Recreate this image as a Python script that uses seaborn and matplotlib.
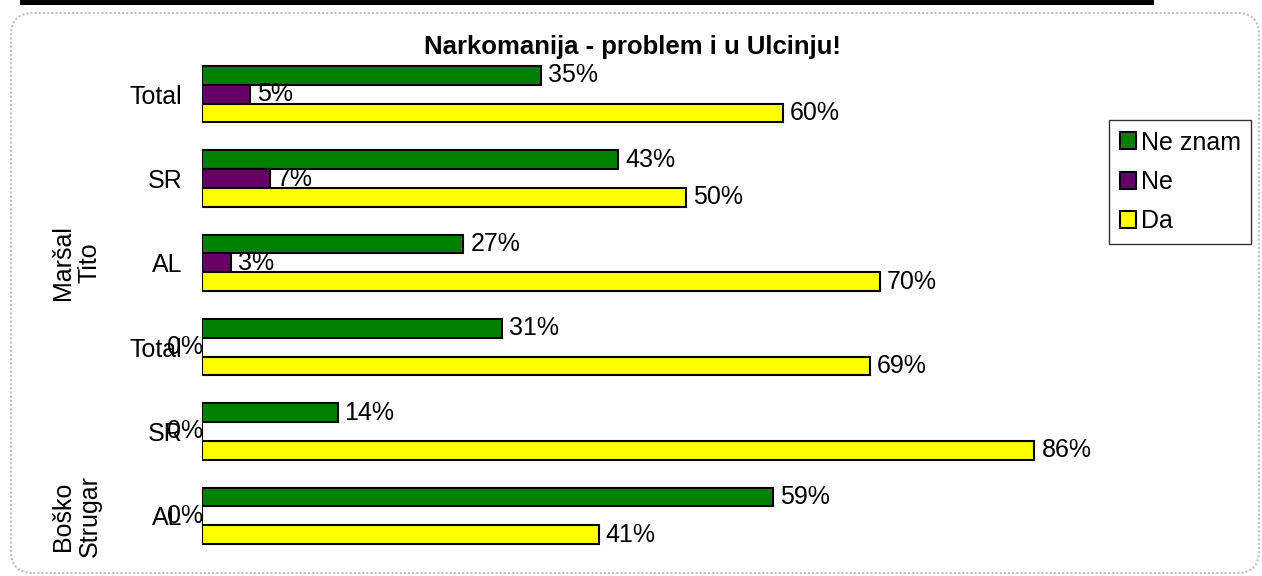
import matplotlib
matplotlib.use("Agg")
import matplotlib.pyplot as plt
import matplotlib.transforms as mtransforms
from matplotlib.patches import Patch, FancyBboxPatch, Rectangle
import seaborn as sns
import pandas as pd

# ---- data ----
title = "Narkomanija - problem i u Ulcinju!"
groups = ["Maršal Tito", "Maršal Tito", "Maršal Tito",
          "Boško Strugar", "Boško Strugar", "Boško Strugar"]
subcats = ["Total", "SR", "AL", "Total", "SR", "AL"]
answers = ["Ne znam", "Ne", "Da"]
ne_znam = [35, 43, 27, 31, 14, 59]
ne = [5, 7, 3, 0, 0, 0]
da = [60, 50, 70, 69, 86, 41]
colors = ["#008000", "#660066", "#FFFF00"]

# ---- long table ----
cat_ids = [f"{g} / {s}" for g, s in zip(groups, subcats)]
rows = []
for ans, vals in zip(answers, [ne_znam, ne, da]):
    for cid, v in zip(cat_ids, vals):
        rows.append({"cat": cid, "answer": ans, "value": v})
df = pd.DataFrame(rows)

sns.set_style("white")
plt.rcParams["font.family"] = ["Liberation Sans", "DejaVu Sans"]
plt.rcParams["text.color"] = "black"
plt.rcParams["ytick.color"] = "black"
plt.rcParams["ytick.labelcolor"] = "black"

FS = 18
W, H, DPI = 1262, 576, 100
fig = plt.figure(figsize=(W / DPI, H / DPI), dpi=DPI)
ax = fig.add_axes([202 / W, 1 - 558 / H, (1170 - 202) / W, (558 - 52) / H])

sns.barplot(data=df, y="cat", x="value", hue="answer", order=cat_ids,
            hue_order=answers, palette=colors, orient="h", width=0.67,
            saturation=1, errorbar=None, edgecolor="black", linewidth=1.5,
            legend=False, ax=ax)

ax.set_xlim(0, 100)
ax.set_ylim(len(cat_ids) - 0.5, -0.5)
ax.set_xlabel("")
ax.set_ylabel("")
ax.set_xticks([])
ax.set_yticks(range(len(cat_ids)))
ax.set_yticklabels(subcats, fontsize=FS, color="black")
ax.tick_params(axis="y", length=0, pad=14)
for sp in ax.spines.values():
    sp.set_visible(False)

# data labels
for cont in ax.containers:
    for bar in cont:
        w = bar.get_width()
        yc = bar.get_y() + bar.get_height() / 2
        if w > 0:
            ax.annotate(f"{w:.0f}%", (w, yc), xytext=(5, 0),
                        textcoords="offset points", ha="left", va="center",
                        fontsize=FS, color="black")
        else:
            ax.annotate(f"{w:.0f}%", (0, yc), xytext=(1, 0),
                        textcoords="offset points", ha="right", va="center",
                        fontsize=FS, color="black")

# group labels
blend = mtransforms.blended_transform_factory(fig.transFigure, ax.transData)
seen = []
for i, g in enumerate(groups):
    last = max(j for j, gg in enumerate(groups) if gg == g)
    if g in seen:
        continue
    seen.append(g)
    ax.text(76 / W, last, g.replace(" ", "\n"), transform=blend,
            rotation=90, ha="center", va="center", fontsize=FS,
            multialignment="center", linespacing=1.15, color="black")

# title
fig.text(633 / W, 1 - 47 / H, title, ha="center", va="center",
         fontsize=18.5, fontweight="bold", color="black")

# legend
handles = [Patch(facecolor=c, edgecolor="black", linewidth=1.5) for c in colors]
leg = fig.legend(handles, answers, loc="upper left",
                 bbox_to_anchor=(1109 / W, 1 - 120 / H), fontsize=FS,
                 frameon=True, fancybox=False, edgecolor="black",
                 handlelength=0.65, handleheight=0.65, handletextpad=0.2,
                 labelspacing=0.62, borderpad=0.42, borderaxespad=0)
leg.get_frame().set_linewidth(1.0)
for t in leg.get_texts():
    t.set_color("black")

# outer rounded frame and top bar
frame = FancyBboxPatch((11, 3), 1248, 560,
                       boxstyle="round,pad=0,rounding_size=22",
                       transform=mtransforms.IdentityTransform(),
                       facecolor="none", edgecolor="#c0c0c0", linewidth=1.5,
                       linestyle=(0, (1, 1)), zorder=-1)
fig.patches.append(frame)
topbar = Rectangle((20, H - 5), 1134, 5,
                   transform=mtransforms.IdentityTransform(),
                   facecolor="black", edgecolor="none")
fig.patches.append(topbar)

fig.savefig("out.png", dpi=DPI)
